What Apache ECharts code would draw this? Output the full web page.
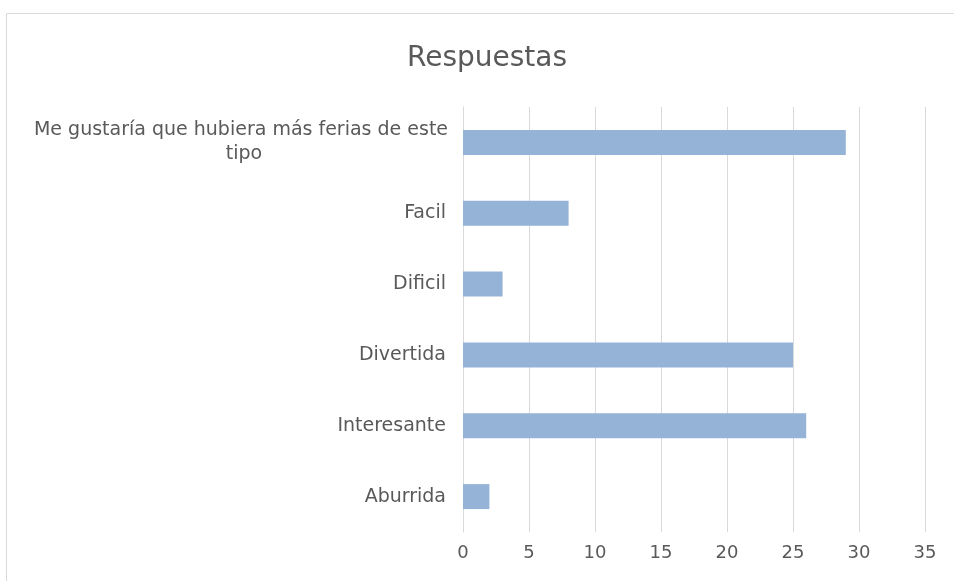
<!DOCTYPE html>
<html>
<head>
<meta charset="utf-8">
<script src="https://cdn.jsdelivr.net/npm/echarts@6/dist/echarts.min.js"></script>
<style>
  html, body { margin: 0; padding: 0; background: #fff; }
  #chart { width: 954px; height: 581px; }
</style>
</head>
<body>
<div id="chart"></div>
<script>
// categorías de abajo hacia arriba (eje de categorías invertido en Excel)
const categories = ['Aburrida', 'Interesante', 'Divertida', 'Dificil', 'Facil', 'Me gustaría que hubiera más ferias de este tipo'];
const values = [2, 26, 25, 3, 8, 29];
const xTicks = { min: 0, max: 35, interval: 5 };

const textColor = '#595959';
const font = 'DejaVu Sans';

// la etiqueta larga se parte en dos líneas centradas, como en Excel
const yData = categories.map(c => c.length > 30
  ? { value: c, textStyle: { align: 'center', width: 440, overflow: 'break', lineHeight: 24, padding: [4, 410, 0, 0] } }
  : c);

const chart = echarts.init(document.getElementById('chart'));
chart.setOption({
  animation: false,
  title: {
    text: 'Respuestas',
    left: 402,
    top: 40,
    textStyle: { fontFamily: font, fontSize: 28, fontWeight: 'normal', color: textColor }
  },
  graphic: [{
    type: 'rect',
    shape: { x: 6.5, y: 13.5, width: 1000, height: 1000 },
    style: { fill: 'none', stroke: '#d9d9d9', lineWidth: 1 },
    silent: true
  }],
  grid: { left: 463, right: 29, top: 107, bottom: 49, containLabel: false },
  xAxis: {
    type: 'value',
    min: xTicks.min,
    max: xTicks.max,
    interval: xTicks.interval,
    axisLine: { show: false },
    axisTick: { show: false },
    splitLine: { lineStyle: { color: '#d9d9d9', width: 1 } },
    axisLabel: { fontFamily: font, fontSize: 18, color: textColor, margin: 12 }
  },
  yAxis: {
    type: 'category',
    data: yData,
    axisLine: { show: true, lineStyle: { color: '#d9d9d9' } },
    axisTick: { show: false },
    axisLabel: { fontFamily: font, fontSize: 19, color: textColor, margin: 17 }
  },
  series: [{
    type: 'bar',
    data: values,
    barWidth: 25,
    itemStyle: { color: '#95b3d7' }
  }]
});
</script>
</body>
</html>
